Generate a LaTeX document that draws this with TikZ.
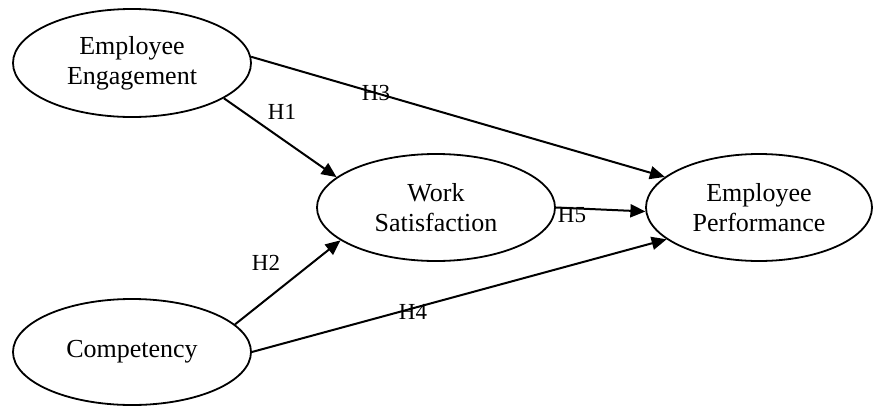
\documentclass[tikz,border=0pt]{standalone}
\usepackage{fontspec}
\setmainfont{Liberation Serif}
\usetikzlibrary{arrows.meta,shapes.geometric}
\begin{document}
\begin{tikzpicture}[x=1pt,y=-1pt,
  construct/.style={ellipse,draw,line width=1.8pt,inner sep=0pt,align=center,
    font=\fontsize{26}{30}\selectfont},
  path/.style={line width=2pt,-{Triangle[length=15pt,width=13pt]}},
  hyp/.style={font=\fontsize{23}{26}\selectfont,inner sep=0pt}]
\useasboundingbox (0,0) rectangle (873,405);
\node[construct,minimum width=238pt,minimum height=108pt] (ee) at (132,63) {Employee\\Engagement};
\node[construct,minimum width=238pt,minimum height=106pt] (co) at (132,352) {Competency};
\node[construct,minimum width=238pt,minimum height=107pt] (ws) at (436,207.5) {Work\\Satisfaction};
\node[construct,minimum width=226pt,minimum height=107pt] (ep) at (759,207.5) {Employee\\Performance};
\draw[path] (ee.-21) -- (ws.163);
\draw[path] (ee.3) -- (ep.162);
\draw[path] (co.15) -- (ws.199);
\draw[path] (co.0) -- (ep.199.5);
\draw[path] (ws.0) -- (ep.182);
\node[hyp] (h1) at (282,112) {H1};
\node[hyp] (h3) at (376,93) {H3};
\node[hyp] (h2) at (266,263) {H2};
\node[hyp] (h4) at (413,312) {H4};
\node[hyp] (h5) at (572,215) {H5};
\end{tikzpicture}
\end{document}
